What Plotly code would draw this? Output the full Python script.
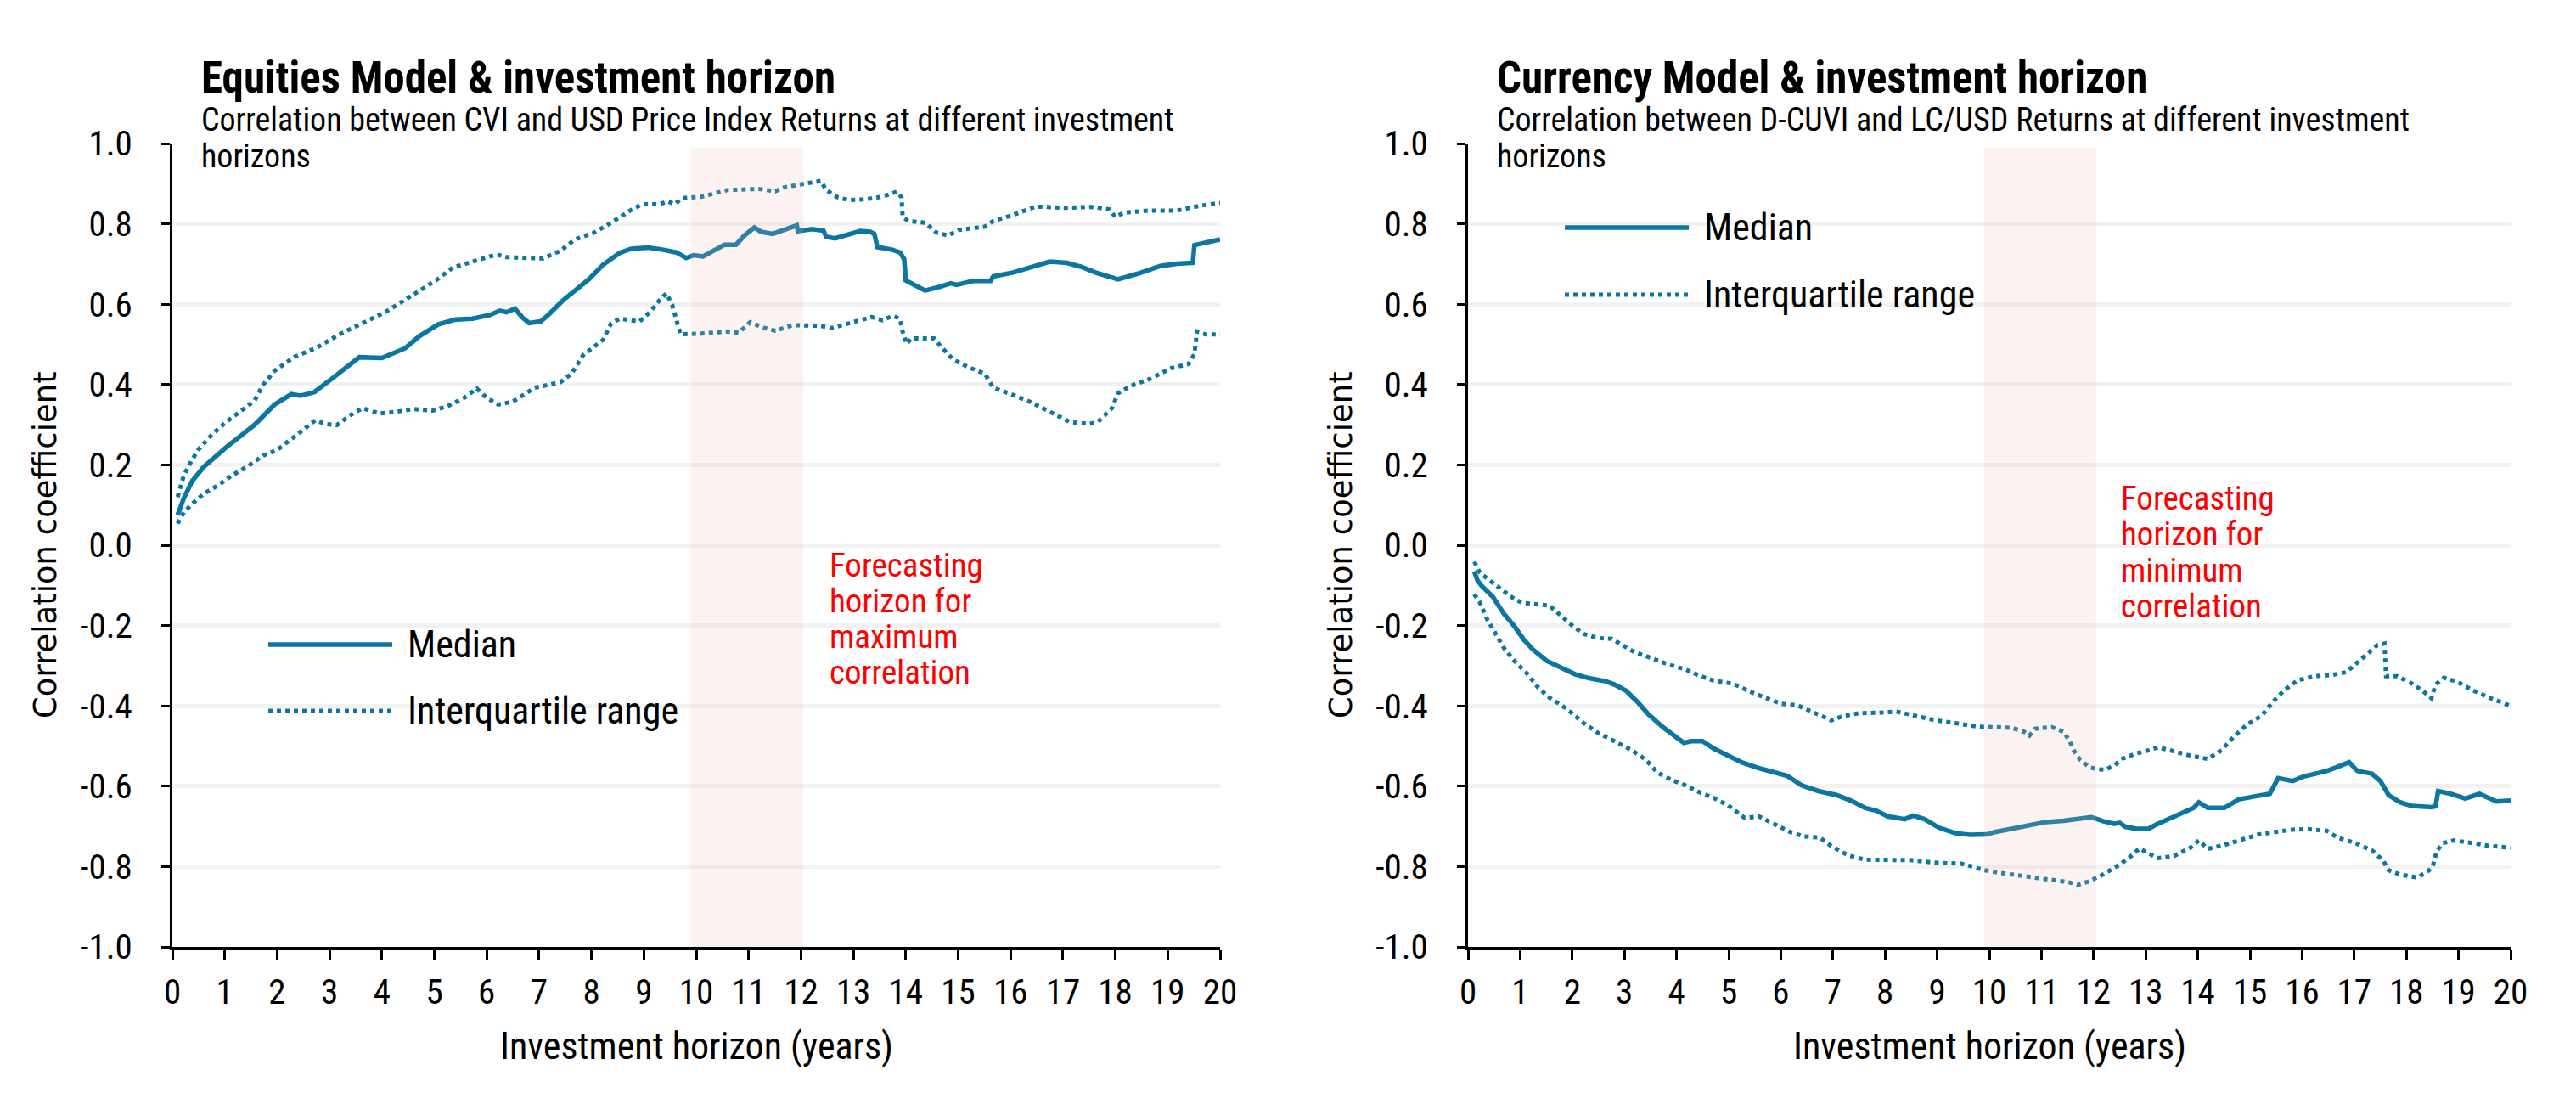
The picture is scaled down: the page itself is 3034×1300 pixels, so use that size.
import plotly.graph_objects as go

# ---------------- data ----------------
eq_med_x = [0.1,0.22,0.38,0.6,1.03,1.57,1.95,2.27,2.44,2.71,3.03,3.3,3.57,4.0,4.44,4.71,5.08,5.41,5.73,6.06,6.25,6.38,6.54,6.68,6.81,7.03,7.19,7.46,7.73,7.95,8.22,8.54,8.76,9.08,9.35,9.62,9.81,9.95,10.13,10.38,10.54,10.76,10.92,11.11,11.24,11.46,11.67,11.92,11.94,12.21,12.43,12.48,12.65,12.86,13.13,13.32,13.4,13.46,13.73,13.89,13.97,14.0,14.16,14.37,14.64,14.86,14.97,15.29,15.62,15.67,16.05,16.43,16.75,17.08,17.35,17.62,18.0,18.05,18.43,18.86,19.18,19.48,19.51,19.72,20.0]
eq_med_y = [0.075,0.117,0.16,0.195,0.244,0.30,0.35,0.376,0.372,0.381,0.413,0.441,0.468,0.466,0.49,0.52,0.55,0.562,0.564,0.573,0.584,0.58,0.589,0.567,0.553,0.557,0.575,0.61,0.638,0.662,0.698,0.728,0.738,0.741,0.736,0.729,0.715,0.722,0.719,0.736,0.748,0.748,0.771,0.791,0.78,0.775,0.786,0.796,0.782,0.787,0.783,0.768,0.764,0.773,0.782,0.78,0.775,0.742,0.736,0.729,0.712,0.659,0.648,0.634,0.643,0.652,0.648,0.658,0.658,0.669,0.679,0.694,0.706,0.703,0.693,0.679,0.666,0.662,0.676,0.695,0.701,0.703,0.747,0.754,0.761]

eq_up_x = [0.1,0.22,0.36,0.49,0.76,1.03,1.36,1.57,1.73,1.95,2.33,2.76,3.19,3.63,4.06,4.38,4.71,5.03,5.35,5.79,6.19,6.38,6.7,7.08,7.41,7.68,8.05,8.38,8.76,8.97,9.3,9.46,9.59,9.73,10.11,10.59,11.19,11.51,11.68,12.0,12.38,12.48,12.7,12.92,13.24,13.56,13.83,13.92,13.94,14.05,14.37,14.59,14.81,15.02,15.51,15.67,16.05,16.48,17.02,17.56,17.89,18.0,18.16,18.64,19.18,19.61,20.0]
eq_up_y = [0.12,0.174,0.209,0.237,0.276,0.307,0.339,0.36,0.399,0.434,0.469,0.492,0.525,0.553,0.58,0.606,0.632,0.659,0.691,0.708,0.724,0.717,0.715,0.714,0.733,0.761,0.778,0.803,0.835,0.849,0.849,0.856,0.849,0.864,0.868,0.884,0.887,0.881,0.891,0.899,0.907,0.884,0.866,0.859,0.861,0.868,0.88,0.866,0.817,0.807,0.803,0.778,0.771,0.785,0.793,0.807,0.822,0.843,0.84,0.842,0.836,0.817,0.828,0.833,0.833,0.845,0.852]

eq_lo_x = [0.1,0.22,0.38,0.6,0.87,1.14,1.46,1.73,2.0,2.27,2.49,2.73,2.92,3.14,3.41,3.63,3.95,4.27,4.6,4.97,5.25,5.57,5.81,6.0,6.22,6.49,6.7,6.92,7.41,7.62,7.84,8.22,8.38,8.54,8.92,9.13,9.3,9.43,9.54,9.62,9.7,10.11,10.59,10.81,11.03,11.3,11.51,11.84,12.38,12.59,13.02,13.35,13.56,13.75,13.89,13.94,14.02,14.1,14.54,14.7,14.91,15.18,15.51,15.67,16.05,16.37,16.75,17.13,17.51,17.67,17.94,18.05,18.27,18.64,19.07,19.4,19.51,19.56,19.72,20.0]
eq_lo_y = [0.054,0.082,0.103,0.128,0.149,0.174,0.198,0.223,0.237,0.265,0.286,0.311,0.302,0.299,0.325,0.341,0.328,0.332,0.339,0.335,0.346,0.367,0.39,0.367,0.35,0.357,0.374,0.392,0.406,0.427,0.473,0.511,0.553,0.564,0.557,0.582,0.61,0.627,0.599,0.56,0.525,0.527,0.532,0.529,0.555,0.541,0.534,0.548,0.546,0.541,0.557,0.568,0.56,0.571,0.564,0.532,0.501,0.515,0.515,0.49,0.462,0.444,0.427,0.392,0.374,0.357,0.332,0.307,0.302,0.307,0.342,0.378,0.395,0.413,0.441,0.451,0.476,0.532,0.525,0.525]

cu_med_x = [0.12,0.18,0.26,0.48,0.69,0.88,1.07,1.24,1.51,1.78,2.05,2.32,2.65,2.81,3.03,3.25,3.46,3.74,3.95,4.14,4.28,4.5,4.71,4.98,5.26,5.58,5.91,6.12,6.4,6.72,7.07,7.35,7.62,7.83,8.05,8.38,8.54,8.76,9.03,9.35,9.63,9.95,10.11,10.44,10.77,11.09,11.42,11.74,11.96,12.18,12.4,12.5,12.61,12.83,13.05,13.21,13.37,13.54,13.75,13.92,14.02,14.19,14.51,14.78,15.06,15.38,15.54,15.82,16.03,16.47,16.68,16.9,17.06,17.34,17.5,17.66,17.88,18.1,18.48,18.56,18.61,18.86,19.13,19.4,19.73,20.0]
cu_med_y = [-0.065,-0.087,-0.101,-0.129,-0.171,-0.2,-0.235,-0.259,-0.288,-0.305,-0.321,-0.331,-0.339,-0.347,-0.362,-0.39,-0.421,-0.453,-0.474,-0.492,-0.488,-0.488,-0.506,-0.524,-0.541,-0.555,-0.566,-0.574,-0.598,-0.612,-0.622,-0.636,-0.654,-0.661,-0.675,-0.682,-0.673,-0.682,-0.703,-0.717,-0.721,-0.72,-0.714,-0.706,-0.696,-0.689,-0.686,-0.682,-0.677,-0.687,-0.694,-0.691,-0.701,-0.706,-0.706,-0.695,-0.686,-0.675,-0.665,-0.654,-0.64,-0.654,-0.654,-0.633,-0.626,-0.619,-0.58,-0.587,-0.576,-0.562,-0.552,-0.54,-0.562,-0.569,-0.587,-0.622,-0.64,-0.649,-0.652,-0.65,-0.612,-0.619,-0.631,-0.619,-0.638,-0.636]

cu_up_x = [0.12,0.23,0.48,0.69,0.91,1.07,1.4,1.56,1.78,2.0,2.22,2.49,2.76,2.98,3.19,3.52,3.84,4.17,4.44,4.71,5.04,5.2,5.36,5.69,6.02,6.31,6.5,6.75,6.97,7.18,7.51,7.89,8.21,8.59,8.97,9.35,9.79,10.11,10.44,10.66,10.77,10.88,11.2,11.42,11.53,11.63,11.74,11.91,12.07,12.23,12.4,12.56,12.83,13.05,13.24,13.54,13.86,14.19,14.46,14.68,14.95,15.22,15.44,15.65,15.92,16.25,16.58,16.85,17.01,17.23,17.44,17.58,17.61,17.82,18.1,18.31,18.48,18.56,18.72,18.97,19.29,19.62,20.0]
cu_up_y = [-0.041,-0.069,-0.094,-0.115,-0.136,-0.144,-0.147,-0.15,-0.175,-0.2,-0.221,-0.231,-0.233,-0.249,-0.266,-0.281,-0.297,-0.309,-0.325,-0.337,-0.344,-0.351,-0.362,-0.379,-0.395,-0.398,-0.409,-0.421,-0.436,-0.426,-0.418,-0.417,-0.414,-0.425,-0.436,-0.443,-0.452,-0.453,-0.455,-0.464,-0.474,-0.457,-0.453,-0.464,-0.485,-0.513,-0.534,-0.552,-0.558,-0.559,-0.548,-0.531,-0.518,-0.511,-0.503,-0.513,-0.524,-0.532,-0.51,-0.478,-0.446,-0.425,-0.39,-0.362,-0.336,-0.326,-0.323,-0.316,-0.298,-0.273,-0.249,-0.245,-0.326,-0.326,-0.344,-0.362,-0.381,-0.347,-0.33,-0.34,-0.362,-0.381,-0.4]

cu_lo_x = [0.12,0.23,0.37,0.53,0.69,0.91,1.13,1.35,1.56,1.89,2.22,2.49,2.81,3.14,3.41,3.63,3.9,4.17,4.44,4.71,4.98,5.31,5.58,5.91,6.18,6.45,6.75,6.97,7.29,7.62,8.05,8.49,8.92,9.46,9.68,9.9,10.22,10.66,10.98,11.31,11.53,11.69,11.91,12.18,12.5,12.72,12.88,13.05,13.24,13.54,13.86,14.02,14.19,14.51,14.84,15.17,15.49,15.82,16.14,16.47,16.68,17.01,17.34,17.55,17.66,17.88,18.2,18.37,18.5,18.58,18.69,18.91,19.24,19.56,20.0]
cu_lo_y = [-0.122,-0.143,-0.185,-0.221,-0.256,-0.291,-0.319,-0.355,-0.379,-0.407,-0.443,-0.467,-0.488,-0.51,-0.534,-0.566,-0.584,-0.598,-0.615,-0.629,-0.647,-0.679,-0.675,-0.696,-0.714,-0.725,-0.728,-0.749,-0.772,-0.783,-0.784,-0.784,-0.79,-0.793,-0.8,-0.809,-0.816,-0.823,-0.828,-0.834,-0.839,-0.846,-0.837,-0.82,-0.795,-0.774,-0.755,-0.767,-0.779,-0.774,-0.753,-0.735,-0.756,-0.746,-0.732,-0.72,-0.714,-0.708,-0.707,-0.711,-0.728,-0.741,-0.76,-0.784,-0.809,-0.82,-0.827,-0.816,-0.802,-0.763,-0.742,-0.735,-0.741,-0.748,-0.753]

x_tick_vals = list(range(0, 21))
y_tick_vals = [-1.0, -0.8, -0.6, -0.4, -0.2, 0.0, 0.2, 0.4, 0.6, 0.8, 1.0]
y_tick_text = ["-1.0", "-0.8", "-0.6", "-0.4", "-0.2", "0.0", "0.2", "0.4", "0.6", "0.8", "1.0"]

forecast_band = [9.9, 12.05]

titles = ["Equities Model & investment horizon", "Currency Model & investment horizon"]
subtitle_lines = [["Correlation between CVI and USD Price Index Returns at different investment", "horizons"],
                  ["Correlation between D-CUVI and LC/USD Returns at different investment", "horizons"]]
note_lines = [["Forecasting", "horizon for", "maximum", "correlation"],
              ["Forecasting", "horizon for", "minimum", "correlation"]]
legend_names = ["Median", "Interquartile range"]
x_title = "Investment horizon (years)"
y_title = "Correlation coefficient"

# ---------------- style ----------------
W, H = 3034, 1300
LINE = "#0C76A0"
FONT = "Roboto Condensed, Roboto, sans-serif"
BLACK = "#000000"
RED = "#FF0000"

def px(x):
    return x / W

def py(y):
    return 1 - y / H

fig = go.Figure()

panels = [
    dict(xa="x", ya="y", med=(eq_med_x, eq_med_y), up=(eq_up_x, eq_up_y), lo=(eq_lo_x, eq_lo_y)),
    dict(xa="x2", ya="y2", med=(cu_med_x, cu_med_y), up=(cu_up_x, cu_up_y), lo=(cu_lo_x, cu_lo_y)),
]

for p in panels:
    for key, dotted, name in [("up", True, legend_names[1]), ("lo", True, legend_names[1]), ("med", False, legend_names[0])]:
        xs, ys = p[key]
        fig.add_trace(go.Scatter(x=xs, y=ys, mode="lines", name=name, xaxis=p["xa"], yaxis=p["ya"],
                                 line=dict(color=LINE, width=5.5 if not dotted else 5,
                                           dash=("5px,5px" if dotted else "solid")),
                                 showlegend=False, hoverinfo="skip"))

left_x = (203, 1437)
right_x = (1729, 2957)
top_y, bot_y = 169, 1115

axis_common = dict(range=[0, 20], tickmode="array", tickvals=x_tick_vals, showgrid=False,
                   showline=True, linecolor=BLACK, linewidth=4, ticks="outside", ticklen=12,
                   tickwidth=2.5, tickcolor=BLACK, zeroline=False, ticklabelstandoff=2,
                   automargin=False,
                   tickfont=dict(family=FONT, size=41, color=BLACK), fixedrange=True)
yaxis_common = dict(range=[-1, 1], tickmode="array", tickvals=y_tick_vals, ticktext=y_tick_text,
                    showgrid=True, gridcolor="#f2f2f2", gridwidth=5, zeroline=False,
                    showline=True, linecolor=BLACK, linewidth=3, ticks="outside", ticklen=10,
                    tickwidth=2.5, tickcolor=BLACK, ticklabelstandoff=26, automargin=False,
                    tickfont=dict(family=FONT, size=41, color=BLACK), fixedrange=True,
                    domain=[py(bot_y), py(top_y)])

fig.update_layout(
    width=W, height=H, margin=dict(l=0, r=0, t=0, b=0, pad=0, autoexpand=False),
    paper_bgcolor="white", plot_bgcolor="white", showlegend=False,
    xaxis=dict(domain=[px(left_x[0]), px(left_x[1])], anchor="y", **axis_common),
    yaxis=dict(anchor="x", **yaxis_common),
    xaxis2=dict(domain=[px(right_x[0]), px(right_x[1])], anchor="y2", **axis_common),
    yaxis2=dict(anchor="x2", **yaxis_common),
)

shapes = []
annotations = []

def text(x, y, s, size, color=BLACK, family=FONT, xanchor="left", angle=0):
    annotations.append(dict(xref="paper", yref="paper", x=px(x), y=py(y), xanchor=xanchor,
                            yanchor="middle", showarrow=False, text=s, textangle=angle,
                            font=dict(family=family, size=size, color=color)))

for i, (xr, xa, ya) in enumerate([(left_x, "x", "y"), (right_x, "x2", "y2")]):
    shapes.append(dict(type="rect", xref=xa, yref=ya, x0=forecast_band[0], x1=forecast_band[1],
                       y0=-1, y1=0.99, fillcolor="rgba(245,180,180,0.17)", line=dict(width=0),
                       layer="above"))
    x0 = xr[0]
    cx = (xr[0] + xr[1]) / 2
    text(x0 + 32, 91, "<b>%s</b>" % titles[i], 51)
    text(x0 + 32, 141, subtitle_lines[i][0], 38)
    text(x0 + 32, 184, subtitle_lines[i][1], 38)
    text(cx, 1232, x_title, 44, xanchor="center")
    text(x0 - 150, 642, y_title, 37, family="DejaVu Sans", xanchor="center", angle=-90)

for j, ln in enumerate(note_lines[0]):
    text(975, 666 + 42 * j, ln, 39, color=RED)
for j, ln in enumerate(note_lines[1]):
    text(2496, 587 + 42.3 * j, ln, 39, color=RED)

for (lx0, ly_med, ly_iqr) in [(316, 759, 837), (1843, 268, 347)]:
    shapes.append(dict(type="line", xref="paper", yref="paper", x0=px(lx0), x1=px(lx0 + 146),
                       y0=py(ly_med), y1=py(ly_med), line=dict(color=LINE, width=5.5)))
    shapes.append(dict(type="line", xref="paper", yref="paper", x0=px(lx0), x1=px(lx0 + 146),
                       y0=py(ly_iqr), y1=py(ly_iqr), line=dict(color=LINE, width=5, dash="5px,5px")))
    text(lx0 + 162, ly_med, legend_names[0], 44)
    text(lx0 + 162, ly_iqr, legend_names[1], 44)

fig.update_layout(shapes=shapes, annotations=annotations)

fig.write_html("out.html", config={"displayModeBar": False},
               post_script="document.body.style.margin='0px';")
